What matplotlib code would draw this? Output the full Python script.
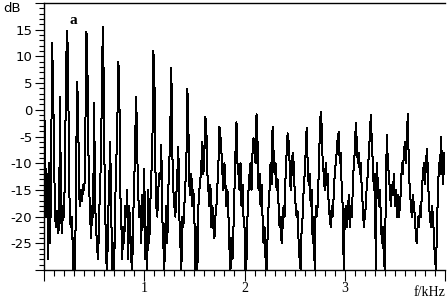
import numpy as np
import matplotlib
matplotlib.use("Agg")
import matplotlib.pyplot as plt
from matplotlib.ticker import MultipleLocator, FixedLocator

# frequency axis in kHz, 0.01 kHz steps
freq_step = 0.01
level_db = [
    -15, -2, -20, -12, -28, -10, -25, -15, 12.5, 5.8,
    -8, -20, -22, -19, -23, -22, 2.4, -20, -23, -18,
    -20, -10, 7.8, 14.8, 9.9, -13, -21, -22, -20, -30,
    -24, -30, -12, 5.2, 1, -16, -18, -15, -17, -14,
    -15, -12, 14.6, 14, -5, -14, -20, -24, -18, -20,
    1.3, -18, -22, -26, -28, -20, -14, -8, 9.8, 15.5,
    -6, -18, -28, -30, -20, -14, -6, -18, -30, -25,
    -30, -18, -10, -5, 9, 7, -15, -20, -28, -22,
    -25, -18, -20, -15, -28, -18, -22, -28, -30, -20,
    -14, -5, 2.4, -8, -16, -20, -18, -25, -16, -22,
    -11, -28, -22, -30, -15, -25, -18, -12, -9, 11,
    8.4, -10, -18, -20, -15, -12, -13, -6.6, -20, -25,
    -30, -22, -18, -25, -15, -10, -3.2, 7.8, -8, -15,
    -18, -20, -16, -12, -7, -20, -25, -30, -20, -22,
    -18, -14, -10, 4, -3, -14, -16, -12, -18, -15,
    -20, -30, -22, -30, -18, -15, -13, -10, -6, -12,
    -8, -1.3, -4, -12, -15, -18, -14, -22, -18, -22,
    -24, -20, -18, -14, -10, -3.2, -5, -8, -12, -15,
    -10, -14, -18, -15, -20, -26, -30, -24, -28, -22,
    -15, -8, -2.3, -10, -12, -15, -10, -18, -14, -20,
    -22, -30, -28, -20, -15, -12, -10, -15, -8, -5.3,
    -8, -10, -0.8, -6, -15, -12, -18, -14, -20, -25,
    -22, -28, -30, -24, -18, -15, -10, -14, -3.2, -8,
    -12, -10, -15, -13, -18, -22, -20, -25, -22, -18,
    -20, -12, -8, -4.4, -6, -10, -15, -12, -8, -10,
    -15, -18, -20, -19, -25, -28, -30, -22, -20, -15,
    -12, -8, -3.4, -10, -14, -12, -18, -15, -25, -20,
    -30, -18, -20, -18, -12, -5, -0.4, -3, -10, -12,
    -15, -10, -14, -12, -18, -20, -22, -18, -20, -16,
    -12, -10, -8, -5, -4.2, -10, -8, -15, -18, -30,
    -20, -18, -22, -20, -16, -22, -18, -20, -15, -10,
    -8, -2.5, -6, -10, -8, -12, -10, -15, -18, -22,
    -20, -18, -14, -12, -8, -5, -1, -6, -10, -15,
    -12, -30, -10, -14, -18, -15, -20, -25, -22, -28,
    -30, -15, -4.7, -10, -12, -15, -18, -14, -16, -12,
    -18, -15, -20, -16, -20, -18, -15, -10, -12, -8,
    -6, -10, -4, -0.8, -12, -15, -18, -20, -16, -18,
    -20, -24, -25, -20, -22, -18, -20, -15, -12, -10,
    -14, -10, -7.3, -12, -18, -20, -22, -18, -20, -24,
    -28, -30, -22, -15, -10, -12, -5, -10, -14, -8, -12,
]
freq_khz = np.arange(len(level_db)) * freq_step

y_major = [-30, -25, -20, -15, -10, -5, 0, 5, 10, 15, 20]
y_labels = ["", "-25", "-20", "-15", "-10", "-5", "0", "5", "10", "15", ""]
x_major = [0, 1, 2, 3, 4]
x_labels = ["", "1", "2", "3", ""]

W, H = 447, 298
fig = plt.figure(figsize=(W / 100, H / 100), dpi=100)
ax = fig.add_axes([44 / W, 28 / H, (445 - 44) / W, (270 - 3) / H])

ax.plot(freq_khz, level_db, color="black", lw=0.72, antialiased=False)
ax.set_xlim(0, 4.0)
ax.set_ylim(-30, 20)

ax.spines["right"].set_visible(False)
for s in ["left", "bottom", "top"]:
    ax.spines[s].set_linewidth(1.0)

ax.yaxis.set_major_locator(FixedLocator(y_major))
ax.set_yticklabels(y_labels)
ax.yaxis.set_minor_locator(MultipleLocator(1))
ax.xaxis.set_major_locator(FixedLocator(x_major))
ax.set_xticklabels(x_labels)
ax.xaxis.set_minor_locator(MultipleLocator(0.1))

ax.tick_params(axis="y", which="major", direction="out", length=6.5, width=0.8,
               labelsize=9.5, pad=2)
ax.tick_params(axis="y", which="minor", direction="out", length=3.5, width=0.8)
ax.tick_params(axis="x", which="major", direction="out", length=8, width=0.8,
               labelsize=10, pad=1)
ax.tick_params(axis="x", which="minor", direction="out", length=4, width=0.8)
for lab in ax.get_xticklabels():
    lab.set_family("Liberation Serif")

ax.text(4.0, -33.0, "f/kHz", ha="right", va="top", fontsize=10,
        family="Liberation Serif", clip_on=False)
fig.text(3 / W, 1 - 9 / H, "dB", ha="left", va="center", fontsize=9.5)
ax.text(0.29, 16.8, "a", ha="center", va="center", fontsize=11,
        family="Liberation Serif", fontweight="bold")

fig.savefig("out.png", dpi=100)
